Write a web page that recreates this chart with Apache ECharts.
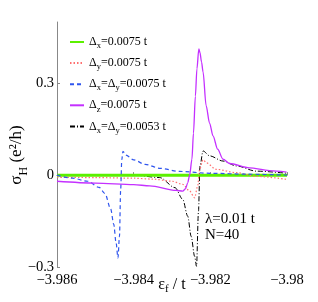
<!DOCTYPE html>
<html>
<head>
<meta charset="utf-8">
<script src="https://cdn.jsdelivr.net/npm/echarts@6/dist/echarts.min.js"></script>
<style>
html,body{margin:0;padding:0;background:#fff;}
#c{width:318px;height:302px;}
</style>
</head>
<body>
<div id="c"></div>
<script>
// ---- data ----
const xTicks = [-3.986, -3.984, -3.982, -3.98];
const yTicks = [-0.3, 0, 0.3];

const greenX = [-3.986, -3.985, -3.984, -3.983, -3.982, -3.981, -3.98];
const greenY = [0, 0, 0, 0, 0, 0, 0];

const pinkX = [-3.9860, -3.9850, -3.9840, -3.9835, -3.9830, -3.98272, -3.98254, -3.98241, -3.98233, -3.98228, -3.98219, -3.98210, -3.98185, -3.98132, -3.98080, -3.9800];
const pinkY = [-0.007, -0.008, -0.01, -0.013, -0.02, -0.03, -0.052, -0.074, -0.036, 0.019, 0.05, 0.04, 0.019, 0.008, -0.004, -0.014];

const blueX = [-3.9860, -3.9856, -3.9852, -3.9849, -3.98475, -3.9846, -3.98452, -3.98446, -3.98441, -3.98437, -3.98434, -3.98431, -3.98428, -3.98420, -3.98400, -3.98370, -3.98330, -3.98280, -3.98200, -3.98100, -3.9800];
const blueY = [0.0, -0.01, -0.02, -0.04, -0.06, -0.11, -0.16, -0.22, -0.27, -0.2, -0.05, 0.05, 0.078, 0.065, 0.05, 0.035, 0.022, 0.012, 0.006, 0.003, 0.0];

const magX = [-3.9860, -3.9850, -3.9840, -3.98358, -3.98289, -3.98272, -3.98265, -3.98259, -3.98254, -3.98248, -3.98244, -3.98239, -3.98235, -3.98230, -3.98227, -3.98223, -3.98219, -3.98211, -3.98202, -3.98193, -3.98181, -3.98167, -3.98150, -3.98098, -3.98046, -3.98001];
const magY = [-0.020, -0.026, -0.031, -0.035, -0.050, -0.052, -0.045, -0.025, 0.0, 0.052, 0.137, 0.258, 0.347, 0.412, 0.40, 0.37, 0.337, 0.227, 0.17, 0.128, 0.085, 0.052, 0.038, 0.024, 0.015, 0.010];

const blackX = [-3.9860, -3.9850, -3.9840, -3.98332, -3.98292, -3.98272, -3.98259, -3.98250, -3.98241, -3.98236, -3.98231, -3.98227, -3.98219, -3.98202, -3.98167, -3.98132, -3.98080, -3.9800];
const blackY = [0, 0, 0, -0.008, -0.041, -0.079, -0.134, -0.20, -0.265, -0.298, -0.12, 0.03, 0.079, 0.063, 0.046, 0.03, 0.013, 0.006];

const names = ['Δx=0.0075 t', 'Δy=0.0075 t', 'Δx=Δy=0.0075 t', 'Δz=0.0075 t', 'Δx=Δy=0.0053 t'];
const richNames = [
  '{m|Δ}{s|x}{m|=0.0075 t}',
  '{m|Δ}{s|y}{m|=0.0075 t}',
  '{m|Δ}{s|x}{m|=Δ}{s|y}{m|=0.0075 t}',
  '{m|Δ}{s|z}{m|=0.0075 t}',
  '{m|Δ}{s|x}{m|=Δ}{s|y}{m|=0.0053 t}'
];

function pairs(xs, ys){ return xs.map((x,i)=>[x, ys[i]]); }
const FONT = 'Liberation Serif';

function fmt(v){
  const r = Math.round(v*1000)/1000;
  let s = Math.abs(r).toString();
  return (r < 0 ? '\u2212' : '') + s;
}

const chart = echarts.init(document.getElementById('c'), null, {renderer:'canvas'});
const option = {
  animation: false,
  backgroundColor: '#fff',
  grid: {left: 57, right: 31, top: 22, bottom: 35, outerBoundsMode: 'none', containLabel: false},
  xAxis: {
    type: 'value', min: -3.986, max: -3.98,
    axisLine: {show: true, lineStyle: {color: '#888', width: 1}},
    axisTick: {show: true, inside: true, length: 3, lineStyle: {color: '#888'}, customValues: xTicks},
    axisLabel: {customValues: xTicks, formatter: fmt, color: '#000', fontFamily: FONT, fontSize: 14.5, margin: 6, showMinLabel: true, showMaxLabel: true},
    splitLine: {show: false},
    name: '{m|ε}{s|f}{m| / t}',
    nameLocation: 'middle', nameGap: 8, nameMoveOverlap: false,
    nameTextStyle: {rich: {
      m: {fontFamily: FONT, fontSize: 16, color: '#000', lineHeight: 20, verticalAlign: 'middle'},
      s: {fontFamily: FONT, fontSize: 11, color: '#000', lineHeight: 20, verticalAlign: 'bottom'}
    }}
  },
  yAxis: {
    type: 'value', min: -0.3, max: 0.5,
    axisLine: {show: true, lineStyle: {color: '#888', width: 1}},
    axisTick: {show: true, inside: true, length: 3, lineStyle: {color: '#888'}, customValues: yTicks},
    axisLabel: {customValues: yTicks, formatter: fmt, color: '#000', fontFamily: FONT, fontSize: 14.5, margin: 3},
    splitLine: {show: false}
  },
  legend: {
    orient: 'vertical', left: 69, top: 36, padding: 0,
    itemWidth: 14, itemHeight: 8, itemGap: 6.6,
    data: names,
    itemStyle: {opacity: 0},
    formatter: function(n){ return richNames[names.indexOf(n)]; },
    textStyle: {rich: {
      m: {fontFamily: FONT, fontSize: 12, color: '#000', lineHeight: 17, verticalAlign: 'middle'},
      s: {fontFamily: FONT, fontSize: 8.5, color: '#000', lineHeight: 17, verticalAlign: 'bottom'}
    }}
  },
  graphic: [
    {type: 'text', x: 17, y: 155, rotation: Math.PI/2,
     style: {text: '{m|σ}{s|H}{m| (e²/h)}', align: 'center', verticalAlign: 'middle',
       rich: {
         m: {fontFamily: FONT, fontSize: 17, fill: '#000', lineHeight: 26, verticalAlign: 'middle'},
         s: {fontFamily: FONT, fontSize: 12, fill: '#000', lineHeight: 26, verticalAlign: 'bottom'}
       }}},
    {type: 'text', left: 205, top: 211, style: {text: 'λ=0.01 t\nN=40', fontFamily: FONT, fontSize: 15, fill: '#000', lineHeight: 16}}
  ],
  series: [
    {name: names[0], type: 'line', data: pairs(greenX, greenY), showSymbol: false, symbol: 'none',
     lineStyle: {color: '#5cf000', width: 3}, itemStyle: {color: '#5cf000'}, z: 3},
    {name: names[1], type: 'line', data: pairs(pinkX, pinkY), showSymbol: false, symbol: 'none', smooth: 0.3, smoothMonotone: 'x',
     lineStyle: {color: '#ff6f6f', width: 1.2, type: [1.5, 2]}, itemStyle: {color: '#ff6f6f'}, z: 4},
    {name: names[2], type: 'line', data: pairs(blueX, blueY), showSymbol: false, symbol: 'none', smooth: 0.3, smoothMonotone: 'x',
     lineStyle: {color: '#2f55ee', width: 1.2, type: [4, 3]}, itemStyle: {color: '#2f55ee'}, z: 5},
    {name: names[3], type: 'line', data: pairs(magX, magY), showSymbol: false, symbol: 'none', smooth: 0.3, smoothMonotone: 'x',
     lineStyle: {color: '#c430ff', width: 1.3}, itemStyle: {color: '#c430ff'}, z: 6},
    {name: names[4], type: 'line', data: pairs(blackX, blackY), showSymbol: false, symbol: 'none', smooth: 0.3, smoothMonotone: 'x',
     lineStyle: {color: '#000', width: 1, type: [5, 2, 1, 2]}, itemStyle: {color: '#000'}, z: 2}
  ]
};
chart.setOption(option);
</script>
</body>
</html>
